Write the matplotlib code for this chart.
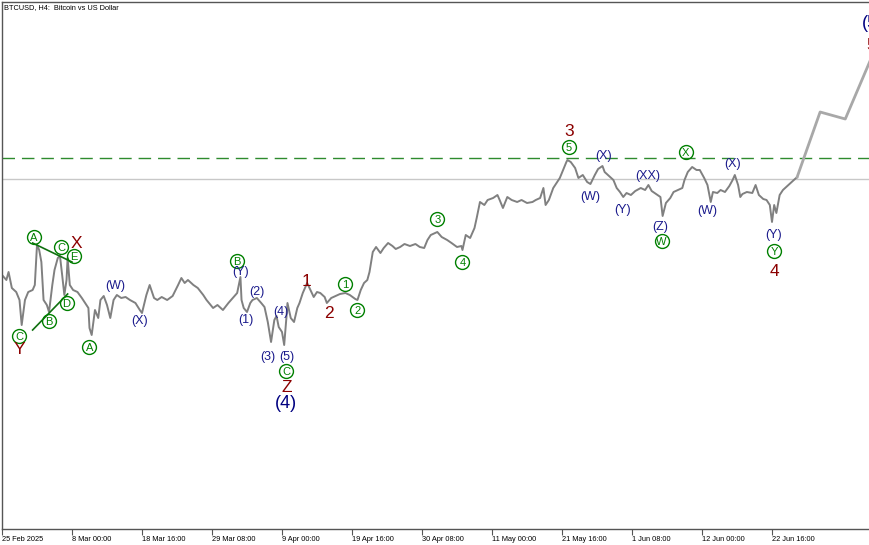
import matplotlib
matplotlib.use('Agg')
import matplotlib.pyplot as plt

plt.rcParams['font.family'] = ['Liberation Sans', 'DejaVu Sans']

# H4 bar index (0 = 25 Feb 2025 08:00) and price
bars = [0, 4, 6, 9, 13, 16, 18, 21, 24, 28, 30, 32, 34, 36, 38, 41, 43, 46, 48, 51,
        53, 55, 57, 59, 60, 62, 65, 69, 73, 76, 79, 80, 82, 85, 88, 90, 93, 96, 99, 102,
        105, 109, 113, 117, 122, 126, 128, 132, 135, 139, 142, 146, 151, 156, 161, 164, 167, 170, 175, 179,
        184, 187, 193, 197, 202, 207, 211, 215, 218, 219, 221, 224, 227, 229, 233, 237, 240, 243, 246, 249,
        251, 253, 256, 258, 260, 261, 264, 267, 270, 272, 275, 279, 282, 285, 288, 291, 295, 297, 301, 305,
        309, 314, 318, 323, 325, 328, 331, 334, 336, 339, 342, 346, 349, 353, 357, 360, 364, 368, 373, 378,
        382, 386, 389, 392, 398, 402, 407, 411, 416, 420, 421, 424, 428, 432, 434, 437, 441, 444, 449, 453,
        455, 458, 462, 466, 471, 475, 480, 485, 488, 492, 495, 497, 500, 504, 507, 510, 513, 516, 517, 520,
        524, 527, 531, 535, 538, 542, 545, 549, 551, 555, 559, 562, 565, 568, 571, 575, 579, 584, 588, 591,
        594, 598, 602, 604, 607, 611, 614, 618, 622, 624, 627, 631, 635, 638, 642, 645, 648, 650, 654, 657,
        661, 665, 668, 670, 673, 675, 677, 681, 686, 689, 692, 696, 699, 702, 704, 706, 708, 711, 714, 718,
        721, 724, 727]
prices = [88600, 87600, 89200, 86000, 85200, 83600, 78600, 83600, 85200, 85600, 86600, 94600, 93600, 91200, 83600, 82600, 81200, 86600, 89600, 92000,
          92400, 88600, 84600, 87600, 92000, 86600, 85600, 85200, 84000, 83000, 82000, 78000, 76600, 81600, 80000, 83600, 84400, 82600, 80000, 83600,
          84600, 84000, 84200, 83600, 83000, 81600, 81000, 84600, 86600, 84000, 83600, 84200, 83600, 84400, 86600, 88000, 87000, 87600, 86600, 86000,
          84600, 83600, 82000, 82600, 81600, 83000, 84000, 85000, 88200, 83600, 82000, 81200, 83000, 83600, 84000, 83000, 82200, 79200, 75200, 79600,
          80400, 78200, 77200, 74600, 80000, 83000, 80000, 79200, 82000, 83000, 85000, 87000, 85600, 84200, 85200, 85000, 84200, 83000, 84000, 84400,
          84800, 85000, 84600, 83800, 83600, 85600, 87000, 87600, 89200, 93200, 94200, 93000, 94000, 95000, 94400, 93800, 94200, 94800, 94400, 94800,
          94200, 94000, 95600, 96600, 97200, 96200, 95600, 95000, 94200, 94400, 93600, 96600, 96000, 98000, 100000, 103200, 102600, 103600, 104000, 104600,
          103600, 102000, 104200, 103600, 103200, 103600, 103000, 103200, 103600, 104000, 106000, 102600, 103600, 106000, 107000, 108000, 109600, 111200, 111600, 111200,
          110000, 108000, 108600, 107200, 106800, 108600, 109800, 110400, 109200, 108400, 107600, 106000, 105200, 104200, 105000, 104600, 105400, 106000, 105600, 106600,
          105400, 104800, 104200, 100400, 103000, 104000, 105200, 105600, 106000, 107600, 109200, 110200, 109600, 109600, 108000, 106600, 103200, 105200, 105000, 105600,
          105200, 106400, 107600, 108600, 106600, 104200, 104800, 105200, 105000, 106600, 104600, 103800, 103600, 102600, 99200, 102600, 101000, 104600, 105600, 106400,
          107000, 107600, 108200]

# projected wave (5)
proj_bars = [727, 748, 771, 794, 812]
proj_prices = [108200, 121200, 119800, 131600, 139600]

current_price = 107800
resistance = 112000

tick_bars = [0, 64, 128, 192, 256, 320, 384, 448, 512, 576, 640, 704]
tick_labels = ['25 Feb 2025', '8 Mar 00:00', '18 Mar 16:00', '29 Mar 08:00', '9 Apr 00:00',
               '19 Apr 16:00', '30 Apr 08:00', '11 May 00:00', '21 May 16:00', '1 Jun 08:00',
               '12 Jun 00:00', '22 Jun 16:00']

# triangle boundary lines
tri_lines = [([28, 64], [95000, 91200]), ([28, 60], [77600, 84800])]

# wave labels: (text, bar, price)
circled = [('A', 29, 96200), ('C', 54, 94200), ('E', 66, 92400), ('D', 59, 83000),
           ('B', 43, 79400), ('C', 16, 76400), ('A', 80, 74200), ('B', 215, 91400),
           ('C', 260, 69400), ('1', 314, 86800), ('2', 325, 81600), ('3', 398, 99800),
           ('4', 421, 91200), ('5', 518, 114200), ('W', 603, 95400), ('X', 625, 113200),
           ('Y', 706, 93400)]
minor = [('(W)', 104, 86400), ('(X)', 126, 79400), ('(Y)', 218, 89200), ('(2)', 233, 85200),
         ('(1)', 223, 79600), ('(4)', 255, 81200), ('(3)', 243, 72200), ('(5)', 260, 72200),
         ('(X)', 550, 112400), ('(W)', 538, 104200), ('(Y)', 567, 101600), ('(XX)', 590, 108400),
         ('(Z)', 602, 98200), ('(X)', 668, 110800), ('(W)', 645, 101400), ('(Y)', 705, 96600)]
primary = [('X', 68, 95000), ('Y', 16, 73600), ('Z', 260, 66200), ('1', 278, 87200),
           ('2', 299, 81000), ('3', 519, 117200), ('4', 706, 89200), ('5', 795, 134400)]
major = [('(4)', 260, 62800), ('(5)', 796, 138800)]

GREEN = '#008000'
BLUE = '#1a1a8c'
RED = '#8b0000'
NAVY = '#000080'

fig = plt.figure(figsize=(8.7, 5.45), dpi=100)
ax = fig.add_axes([2 / 870, 16 / 545, 1 - 2 / 870, 527 / 545])

ax.axhline(current_price, color='#c8c8c8', linewidth=1)
ax.axhline(resistance, color='#2e8b2e', linewidth=1, dashes=(9, 5))
ax.plot(bars, prices, color='#808080', linewidth=1.4)
ax.plot(proj_bars, proj_prices, color='#a8a8a8', linewidth=2)
for xs, ys in tri_lines:
    ax.plot(xs, ys, color='#107010', linewidth=1.2)

for t, b, p in circled:
    ax.plot(b, p, 'o', markersize=10, markerfacecolor='none', markeredgecolor=GREEN,
            markeredgewidth=1)
    ax.text(b, p, t, color=GREEN, fontsize=8, ha='center', va='center_baseline')
for t, b, p in minor:
    ax.text(b, p, t, color=BLUE, fontsize=9, ha='center', va='center')
for t, b, p in primary:
    ax.text(b, p, t, color=RED, fontsize=12.5, ha='center', va='center', clip_on=False)
for t, b, p in major:
    ax.text(b, p, t, color=NAVY, fontsize=13, ha='center', va='center', clip_on=False)

ax.set_xlim(0, 793.6)
ax.set_ylim(37800, 143200)
ax.set_xticks(tick_bars)
ax.set_xticklabels(tick_labels, ha='left', fontsize=5.3)
ax.tick_params(axis='x', direction='out', length=4, width=0.8, color='#555555', pad=1)
ax.set_yticks([])
for side in ['left', 'top', 'bottom']:
    ax.spines[side].set_color('#555555')
    ax.spines[side].set_linewidth(1)
ax.spines['right'].set_visible(False)

fig.text(4 / 870, 1 - 8 / 545, 'BTCUSD, H4:  Bitcoin vs US Dollar', fontsize=5.3,
         ha='left', va='center')

fig.savefig('out.png')
